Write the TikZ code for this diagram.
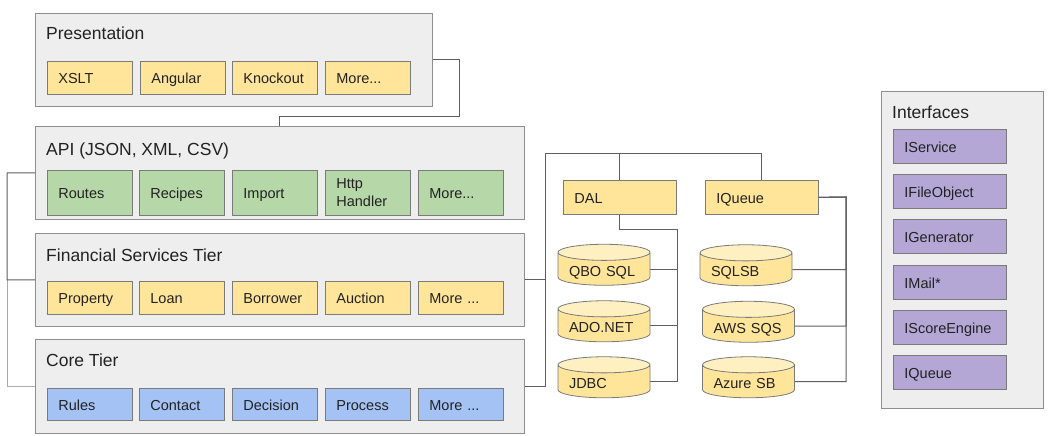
\documentclass[tikz,border=0pt]{standalone}
\usepackage{fontspec}
\setmainfont{Liberation Sans}
\usetikzlibrary{shapes.geometric}
\definecolor{tierfill}{HTML}{EEEEEE}
\definecolor{tierline}{HTML}{8E8E8E}
\definecolor{boxline}{HTML}{7A7A7A}
\definecolor{connc}{HTML}{5F5F5F}
\definecolor{lconnc}{HTML}{ABABAB}
\definecolor{textc}{HTML}{222222}
\definecolor{cYel}{HTML}{FFE599}
\definecolor{cYelL}{HTML}{FFF0C2}
\definecolor{cGrn}{HTML}{B6D7A8}
\definecolor{cBlu}{HTML}{A4C2F4}
\definecolor{cPur}{HTML}{B4A7D6}
\begin{document}
\begin{tikzpicture}[x=1pt,y=-1pt,
  tier/.style={draw=tierline, fill=tierfill, line width=0.8pt, anchor=north west, inner sep=0pt},
  ttl/.style={anchor=base west, inner sep=0pt, xshift=11pt, font=\fontsize{17.5}{21}\selectfont, text=textc},
  ib/.style={draw=boxline, line width=0.8pt, anchor=north west, inner xsep=11pt, inner ysep=0pt,
    text width=63pt, minimum width=85pt, minimum height=33pt, align=left,
    font=\fontsize{14.5}{18}\selectfont, text height=13pt, text depth=1.4pt, text=textc},
  wideb/.style={text width=91pt, minimum width=113pt, minimum height=34pt},
  ybox/.style={ib, fill=cYel},
  gbox/.style={ib, fill=cGrn, minimum height=45pt},
  bbox/.style={ib, fill=cBlu, minimum height=32pt},
  pbox/.style={ib, wideb, fill=cPur},
  cyl/.style={cylinder, shape border rotate=90, aspect=0.23, minimum width=92pt, minimum height=41pt,
    draw=boxline, line width=0.8pt, cylinder uses custom fill, cylinder body fill=cYel,
    cylinder end fill=cYelL, inner sep=0pt, font=\fontsize{14.5}{18}\selectfont, text=textc,
    text width=70pt, align=left, text height=14pt, text depth=0pt},
  conn/.style={draw=connc, line width=1pt},
  lconn/.style={draw=lconnc, line width=1pt}
]
\useasboundingbox[fill=white] (0,0) rectangle (1050,436);

% Tiers
\node[tier, minimum width=397pt, minimum height=93pt, label={[ttl, yshift=-27pt]north west:Presentation}] (pres) at (35,13) {};
\node[tier, minimum width=489pt, minimum height=93pt, label={[ttl, yshift=-29pt]north west:API (JSON, XML, CSV)}] (api) at (35,126) {};
\node[tier, minimum width=489pt, minimum height=93pt, label={[ttl, yshift=-28pt]north west:Financial Services Tier}] (fin) at (35,233) {};
\node[tier, minimum width=489pt, minimum height=94pt, label={[ttl, yshift=-27pt]north west:Core Tier}] (core) at (35,339) {};
\node[tier, minimum width=162pt, minimum height=317pt, label={[ttl, yshift=-27pt]north west:Interfaces}] (intf) at (881,91) {};

% Presentation items
\node[ybox] (xslt) at (47,61) {XSLT};
\node[ybox] (angular) at (140,61) {Angular};
\node[ybox] (knockout) at (232,61) {Knockout};
\node[ybox] (pmore) at (325,61) {More...};

% API items
\node[gbox] (routes) at (47,170) {Routes};
\node[gbox] (recipes) at (139,170) {Recipes};
\node[gbox] (import) at (232,170) {Import};
\node[gbox, text height=13pt, text depth=22pt] (http) at (325,170) {Http\\Handler};
\node[gbox] (amore) at (418,170) {More...};

% Financial items
\node[ybox] (property) at (47,281) {Property};
\node[ybox] (loan) at (139,281) {Loan};
\node[ybox] (borrower) at (232,281) {Borrower};
\node[ybox] (auction) at (325,281) {Auction};
\node[ybox] (fmore) at (418,281) {More ...};

% Core items
\node[bbox] (rules) at (47,388) {Rules};
\node[bbox] (contact) at (139,388) {Contact};
\node[bbox] (decision) at (232,388) {Decision};
\node[bbox] (process) at (325,388) {Process};
\node[bbox] (cmore) at (418,388) {More ...};

% DAL / IQueue
\node[ybox, wideb] (dal) at (563,180) {DAL};
\node[ybox, wideb] (iq) at (705,180) {IQueue};

% Cylinders
\node[cyl] (qbo) at (604,269) {QBO SQL};
\node[cyl] (ado) at (604,325.5) {ADO.NET};
\node[cyl] (jdbc) at (604,381.5) {JDBC};
\node[cyl] (sqlsb) at (746,269.5) {SQLSB};
\node[cyl] (aws) at (748.5,326) {AWS SQS};
\node[cyl] (azure) at (748.5,381.5) {Azure SB};

% Interfaces
\node[pbox] (iservice) at (893,129) {IService};
\node[pbox] (ifile) at (893,174) {IFileObject};
\node[pbox] (igen) at (893,219) {IGenerator};
\node[pbox] (imail) at (893,265) {IMail*};
\node[pbox] (iscore) at (893,310) {IScoreEngine};
\node[pbox] (iqueue2) at (893,355) {IQueue};

% Bus points
\coordinate (pbus) at (459,116);
\coordinate (lbus) at (7,173);
\coordinate (tbus) at (545,153);
\coordinate (dbus) at (677,229);
\coordinate (ibus) at (846,197);

% Connectors
\draw[conn] (pres.east) -| (pbus) -| (api.north);
\draw[lconn] (lbus |- fin.west) |- (core.west);
\draw[conn] (api.west) -- (lbus) |- (fin.west);
\draw[conn] (fin.east) -| (tbus) -| (dal.north);
\draw[conn] (fin.east) -| (tbus) -| (iq.north);
\draw[conn] (core.east) -| (tbus);
\draw[conn] (dal.south) |- (dbus) |- (qbo.east);
\draw[conn] (dal.south) |- (dbus) |- (ado.east);
\draw[conn] (dal.south) |- (dbus) |- (jdbc.east);
\draw[conn] (iq.east) -- (ibus) |- (sqlsb.east);
\draw[conn] (iq.east) -- (ibus) |- (aws.east);
\draw[conn] (iq.east) -- (ibus) |- (azure.east);
\end{tikzpicture}
\end{document}
